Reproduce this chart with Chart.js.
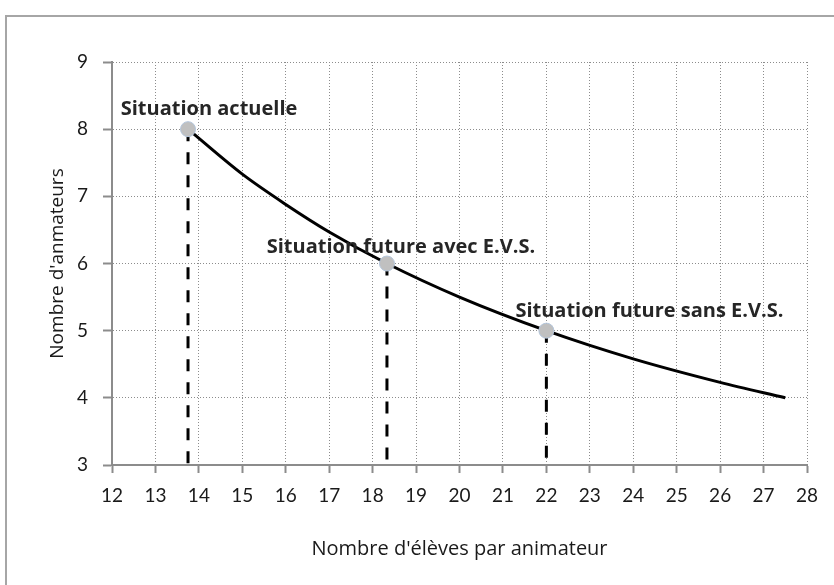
<!DOCTYPE html>
<html>
<head>
<meta charset="utf-8">
<script src="https://cdn.jsdelivr.net/npm/chart.js@4.4.1/dist/chart.umd.min.js"></script>
<style>
  html, body { margin: 0; padding: 0; background: #fff; overflow: hidden; }
  #wrap { position: relative; width: 834px; height: 585px; overflow: hidden; }
  #cadre { position: absolute; left: 5px; top: 15px; width: 900px; height: 700px; border: 2px solid #a6a6a6; }
  canvas { position: absolute; left: 0; top: 0; }
</style>
</head>
<body>
<div id="wrap">
  <div id="cadre"></div>
  <canvas id="animateurs" width="834" height="585"></canvas>
</div>
<script>
// courbe
const courbeX = [13.75, 15, 16, 17, 18.33, 20, 22, 24, 26, 27.5]
const courbeY = [8, 7.33, 6.88, 6.47, 6, 5.5, 5, 4.58, 4.23, 4]

// situations
const situations = ['Situation actuelle', 'Situation future avec E.V.S.', 'Situation future sans E.V.S.']
const situationsX = [13.75, 18.33, 22]
const situationsY = [8, 6, 5]

// bornes des axes
const xMin = 12, xMax = 28
const yMin = 3, yMax = 9

// décalage des étiquettes (pixels)
const decalages = [[21, -14], [14, -11], [103, -14]]

const police = 'Lato'
const policeTexte = '"Open Sans"'

const courbe = courbeX.map((x, i) => ({ x: x, y: courbeY[i] }))
const points = situationsX.map((x, i) => ({ x: x, y: situationsY[i] }))

const pointilles = situationsX.map((x, i) => ({
  type: 'line',
  data: [{ x: x, y: situationsY[i] }, { x: x, y: yMin }],
  borderColor: '#000',
  borderWidth: 3,
  borderDash: [12, 11],
  pointRadius: 0,
  fill: false,
}))

const etiquettes = {
  id: 'etiquettes',
  afterDatasetsDraw(chart) {
    const ctx = chart.ctx
    const sx = chart.scales.x
    const sy = chart.scales.y
    ctx.save()
    ctx.font = 'bold 20px ' + policeTexte
    ctx.fillStyle = '#262626'
    ctx.textAlign = 'center'
    ctx.textBaseline = 'alphabetic'
    situations.forEach((txt, i) => {
      const px = sx.getPixelForValue(situationsX[i]) + decalages[i][0]
      const py = sy.getPixelForValue(situationsY[i]) + decalages[i][1]
      ctx.fillText(txt, px, py)
    })
    ctx.restore()
  },
}

const grille = {
  color: '#8c8c8c',
  tickBorderDash: [],
  tickColor: '#8c8c8c',
  tickWidth: 2,
}

const config = {
  type: 'scatter',
  data: {
    datasets: [
      {
        data: points,
        pointRadius: 7.5,
        pointBackgroundColor: '#c0c0c0',
        pointBorderColor: '#b4c6dc',
        pointBorderWidth: 1,
        showLine: false,
      },
      {
        type: 'line',
        data: courbe,
        borderColor: '#000',
        borderWidth: 3,
        pointRadius: 0,
        cubicInterpolationMode: 'monotone',
        fill: false,
      },
      ...pointilles,
    ],
  },
  options: {
    responsive: false,
    animation: false,
    layout: { padding: { top: 62, right: 27, left: 0, bottom: 0 } },
    plugins: {
      legend: { display: false },
      tooltip: { enabled: false },
    },
    scales: {
      x: {
        type: 'linear',
        min: xMin,
        max: xMax,
        afterFit: (s) => { s.height = 120 },
        ticks: { stepSize: 1, padding: 11, color: '#1a1a1a', font: { family: police, size: 19 } },
        grid: { ...grille, tickLength: 8 },
        border: { color: '#8c8c8c', width: 2, dash: [1, 2] },
        title: {
          display: true,
          text: "Nombre d'élèves par animateur",
          color: '#1a1a1a',
          font: { family: policeTexte, size: 20 },
          padding: { top: 4, bottom: 24 },
        },
      },
      y: {
        min: yMin,
        max: yMax,
        afterFit: (s) => { s.width = 112 },
        ticks: { stepSize: 1, padding: 15, color: '#1a1a1a', font: { family: police, size: 19 } },
        grid: { ...grille, tickLength: 9 },
        border: { color: '#8c8c8c', width: 2, dash: [1, 2] },
        title: {
          display: true,
          text: "Nombre d'anmateurs",
          color: '#1a1a1a',
          font: { family: policeTexte, size: 19 },
          padding: { top: 46, bottom: 4 },
        },
      },
    },
  },
  plugins: [etiquettes],
}

const animateursChart = new Chart(document.getElementById('animateurs'), config)
</script>
</body>
</html>
